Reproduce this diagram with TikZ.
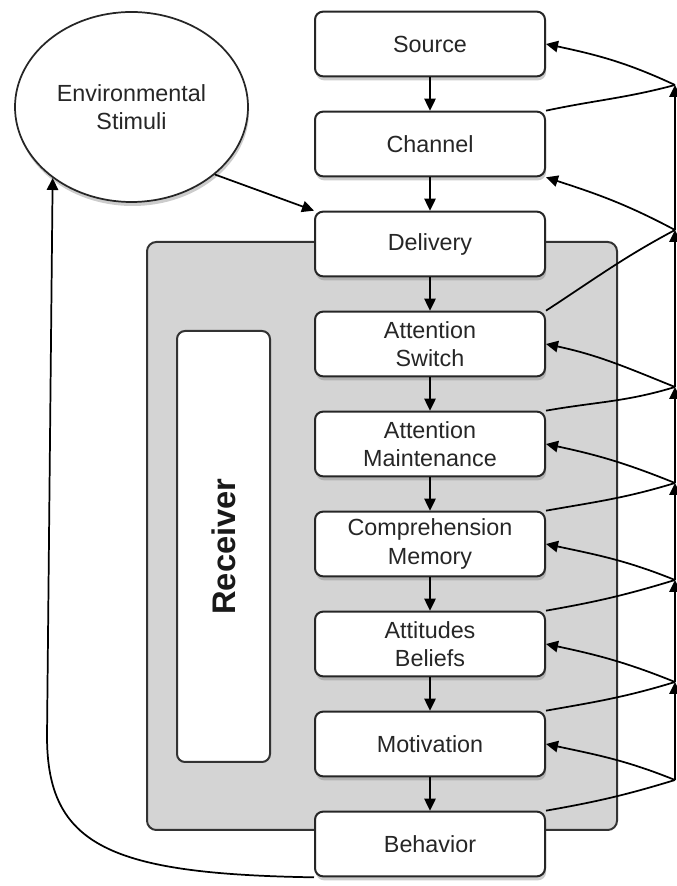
\documentclass[tikz,border=0pt]{standalone}
\usepackage{fontspec}
\setmainfont{Liberation Sans}
\usetikzlibrary{positioning, shapes.geometric, arrows.meta, shadows}

\tikzset{
  stage/.style={rectangle, rounded corners=6pt, draw=black!85, line width=1.5pt,
    fill=white, minimum width=172.5pt, minimum height=48.5pt, inner sep=2pt,
    align=center, text=black!85, font=\fontsize{17.5}{21.5}\selectfont,
    drop shadow={opacity=0.4, shadow xshift=0.8pt, shadow yshift=-3pt}},
  flow/.style={-{Triangle[length=9pt,width=8.5pt]}, line width=1.3pt},
  back/.style={line width=1.3pt},
}

\begin{document}
\begin{tikzpicture}[x=0.75pt, y=0.75pt, node distance=75pt]
    \useasboundingbox (0,0) rectangle (677,886);

    % receiver area
    \node[rectangle, rounded corners=7pt, draw=black!80, line width=1.5pt,
    fill=black!17,
    minimum width=352.5pt,
    minimum height=441pt] (recv) at (382,350) {};

    \node[rectangle, rounded corners=6pt, draw=black!80, line width=1.5pt,
    fill=white,
    minimum width=69.75pt,
    minimum height=323.25pt] (rlbl) at (223.5,339.5) {};

    \node[rotate=90, text=black!90,
    font=\fontsize{24.5}{28}\selectfont\bfseries] (rtxt) at (rlbl) {Receiver};

    % stages
    \node[stage] (src) at (430,842) {Source};
    \node[stage, below of=src] (chn) {Channel};
    \node[stage, below of=chn] (dlv) {Delivery};
    \node[stage, below of=dlv] (aswt) {Attention\\Switch};
    \node[stage, below of=aswt] (amnt) {Attention\\Maintenance};
    \node[stage, below of=amnt] (cmem) {Comprehension\\Memory};
    \node[stage, below of=cmem] (attb) {Attitudes\\Beliefs};
    \node[stage, below of=attb] (motv) {Motivation};
    \node[stage, below of=motv] (bhvr) {Behavior};

    \draw[flow] (src)--(chn);
    \draw[flow] (chn)--(dlv);
    \draw[flow] (dlv)--(aswt);
    \draw[flow] (aswt)--(amnt);
    \draw[flow] (amnt)--(cmem);
    \draw[flow] (cmem)--(attb);
    \draw[flow] (attb)--(motv);
    \draw[flow] (motv)--(bhvr);

    % environment
    \node[ellipse, draw=black!85, line width=1.3pt, fill=white,
    minimum width=174.75pt,
    minimum height=142.5pt,
    inner sep=2pt, align=center, text=black!85,
    font=\fontsize{17.5}{21.5}\selectfont,
    drop shadow={opacity=0.4, shadow xshift=0.8pt, shadow yshift=-3pt}
    ] (env) at (131.5,779) {Environmental\\Stimuli};

    \draw[flow] (env.-39)--(dlv.north west);

    \coordinate (lbend) at (47,150);
    \draw[flow] (bhvr.south west) .. controls (110,12) and (47,40) .. (lbend)
      -- (env.222);

    % feedback on the right
    \coordinate (p1) at (675,801);
    \coordinate (p2) at (675,656);
    \coordinate (p3) at (675,499);
    \coordinate (p4) at (675,403);
    \coordinate (p5) at (675,306);
    \coordinate (p6) at (675,204);
    \coordinate (p7) at (675,106);

    \draw[back] (chn.north east) to[out=12, in=195] (p1);
    \draw[flow] (p1) to[out=155, in=-12] (src.east);

    \draw[back] (aswt.north east) to[out=33, in=208] (p2);
    \draw[flow] (p2) to[out=152, in=-18] (chn.south east);

    \draw[back] (amnt.north east) to[out=10, in=197] (p3);
    \draw[flow] (p3) to[out=158, in=-12] (aswt.east);

    \draw[back] (cmem.north east) to[out=10, in=197] (p4);
    \draw[flow] (p4) to[out=158, in=-12] (amnt.east);

    \draw[back] (attb.north east) to[out=10, in=197] (p5);
    \draw[flow] (p5) to[out=158, in=-12] (cmem.east);

    \draw[back] (motv.north east) to[out=10, in=197] (p6);
    \draw[flow] (p6) to[out=158, in=-12] (attb.east);

    \draw[back] (bhvr.north east) to[out=10, in=197] (p7);
    \draw[flow] (p7) to[out=158, in=-12] (motv.east);

    \draw[flow] (p7)--(p6);
    \draw[flow] (p6)--(p5);
    \draw[flow] (p5)--(p4);
    \draw[flow] (p4)--(p3);
    \draw[flow] (p3)--(p2);
    \draw[flow] (p2)--(p1);
\end{tikzpicture}
\end{document}
